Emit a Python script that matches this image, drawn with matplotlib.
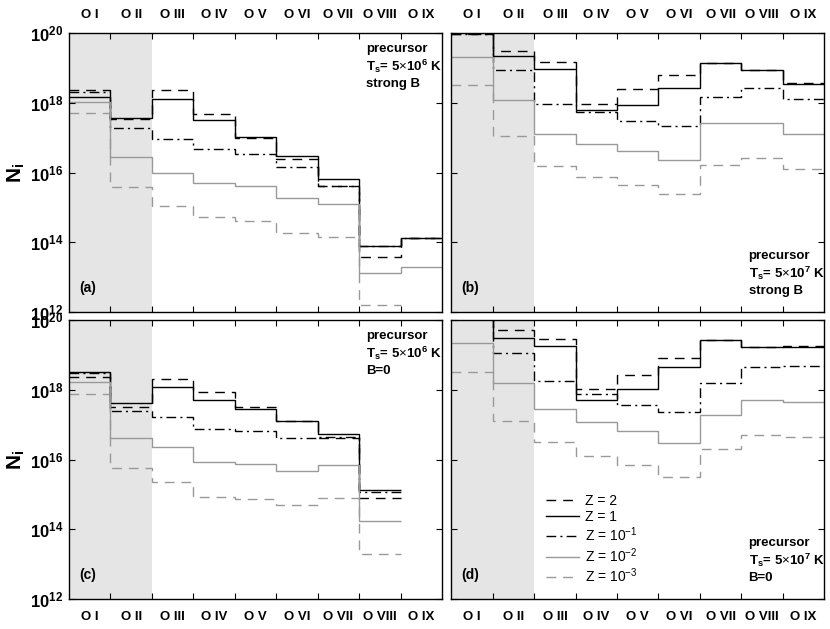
import numpy as np
import matplotlib
matplotlib.use("Agg")
import matplotlib.pyplot as plt

plt.rcParams['font.family'] = ['Liberation Sans', 'DejaVu Sans']
plt.rcParams['mathtext.fontset'] = 'custom'
plt.rcParams['mathtext.rm'] = 'Liberation Sans'
plt.rcParams['mathtext.bf'] = 'Liberation Sans:bold'
plt.rcParams['mathtext.it'] = 'Liberation Sans:italic'

# DATA (log10 N_i), one value per ion, nan = not shown
ions = ['O I', 'O II', 'O III', 'O IV', 'O V', 'O VI', 'O VII', 'O VIII', 'O IX']
z_labels = ['Z = 2', 'Z = 1', r'Z = 10$^{-1}$', r'Z = 10$^{-2}$', r'Z = 10$^{-3}$']

# (a) Ts=5e6 K, strong B
a_z2 = [18.36, 17.53, 18.36, 17.67, 17.00, 16.39, 15.62, 13.58, 14.12]
a_z1 = [18.17, 17.56, 18.11, 17.50, 17.02, 16.46, 15.82, 13.88, 14.12]
a_z01 = [18.30, 17.28, 16.95, 16.68, 16.53, 16.16, 15.62, 13.90, 14.12]
a_z001 = [18.02, 16.44, 16.00, 15.70, 15.60, 15.27, 15.10, 13.12, 13.30]
a_z0001 = [17.72, 15.57, 15.04, 14.71, 14.61, 14.26, 14.15, 12.19, np.nan]

# (b) Ts=5e7 K, strong B
b_z2 = [19.96, 19.49, 19.16, 17.96, 18.39, 18.79, 19.15, 18.95, 18.57]
b_z1 = [20.30, 19.33, 18.97, 17.80, 17.94, 18.43, 19.15, 18.95, 18.55]
b_z01 = [19.98, 18.93, 17.96, 17.73, 17.47, 17.32, 18.16, 18.41, 18.11]
b_z001 = [19.31, 18.09, 17.11, 16.83, 16.61, 16.37, 17.42, 17.43, 17.10]
b_z0001 = [18.51, 17.04, 16.19, 15.87, 15.64, 15.39, 16.22, 16.43, 16.10]

# (c) Ts=5e6 K, B=0
c_z2 = [18.36, 17.51, 18.30, 17.94, 17.50, 17.11, 16.61, 14.90, np.nan]
c_z1 = [18.51, 17.62, 18.07, 17.71, 17.46, 17.11, 16.73, 15.13, np.nan]
c_z01 = [18.48, 17.40, 17.23, 16.88, 16.82, 16.62, 16.64, 15.06, np.nan]
c_z001 = [18.22, 16.63, 16.35, 15.92, 15.88, 15.68, 15.85, 14.24, np.nan]
c_z0001 = [17.88, 15.75, 15.36, 14.93, 14.86, 14.69, 14.89, 13.28, np.nan]

# (d) Ts=5e7 K, B=0
d_z2 = [20.30, 19.70, 19.47, 18.02, 18.41, 18.92, 19.42, 19.22, 19.26]
d_z1 = [20.30, 19.49, 19.26, 17.72, 18.03, 18.65, 19.42, 19.22, 19.23]
d_z01 = [20.20, 19.05, 18.24, 17.89, 17.57, 17.36, 18.19, 18.65, 18.69]
d_z001 = [19.33, 18.19, 17.44, 17.07, 16.81, 16.48, 17.28, 17.70, 17.65]
d_z0001 = [18.52, 17.11, 16.50, 16.11, 15.85, 15.51, 16.30, 16.69, 16.65]

panels = [
    ('(a)', [a_z2, a_z1, a_z01, a_z001, a_z0001], '6', 'strong B'),
    ('(b)', [b_z2, b_z1, b_z01, b_z001, b_z0001], '7', 'strong B'),
    ('(c)', [c_z2, c_z1, c_z01, c_z001, c_z0001], '6', 'B=0'),
    ('(d)', [d_z2, d_z1, d_z01, d_z001, d_z0001], '7', 'B=0'),
]

styles = [
    dict(color='black', ls=(0, (7, 5))),
    dict(color='black', ls='-'),
    dict(color='black', ls=(0, (7, 3, 1.5, 3))),
    dict(color='0.6', ls='-'),
    dict(color='0.6', ls=(0, (7, 5))),
]

edges = np.arange(len(ions) + 1)
centers = edges[:-1] + 0.5

fig = plt.figure(figsize=(8.3, 6.29), dpi=100)
w, h = 0.4494, 0.4435
positions = [(0.0831, 0.504), (0.5437, 0.504), (0.0831, 0.0477), (0.5437, 0.0477)]

for i, (tag, series, texp, bline) in enumerate(panels):
    ax = fig.add_axes([positions[i][0], positions[i][1], w, h])
    ax.axvspan(0, 2, color='#e5e5e5', lw=0, zorder=0)
    for vals, st, lab in zip(series, styles, z_labels):
        ax.stairs(10 ** np.array(vals), edges, baseline=None, lw=1.0,
                  color=st['color'], linestyle=st['ls'], label=lab)
    ax.set_yscale('log')
    ax.set_ylim(1e12, 1e20)
    ax.set_xlim(0, 9)
    ax.set_yticks([1e12, 1e14, 1e16, 1e18, 1e20])
    ax.minorticks_off()
    if i % 2 == 0:
        ax.set_yticklabels([r'$\mathbf{10^{%d}}$' % e for e in (12, 14, 16, 18, 20)],
                           fontsize=12)
        ax.set_ylabel(r'$\mathbf{N_i}$', fontsize=15, labelpad=2)
    else:
        ax.set_yticklabels([])
    ax.tick_params(axis='y', which='major', direction='in', left=True, right=True,
                   length=4, pad=4)
    ax.set_xticks(edges[1:-1])
    ax.set_xticklabels([])
    ax.set_xticks(centers, minor=True)
    ax.set_xticklabels(ions, minor=True, fontsize=9.5, fontweight='bold')
    ax.tick_params(axis='x', which='major', direction='in', top=True, bottom=True,
                   length=4)
    top = i < 2
    ax.tick_params(axis='x', which='minor', length=0, pad=9,
                   labeltop=top, labelbottom=not top)
    for sp in ax.spines.values():
        sp.set_linewidth(1.0)

    ax.text(0.028, 0.085, tag, transform=ax.transAxes, fontsize=10,
            fontweight='bold', va='center', ha='left')
    txt = 'precursor\n' + r'$\mathbf{T_s}$= 5$\times$10$^{\mathbf{%s}}$ K' % texp + '\n' + bline
    if tag in ('(a)', '(c)'):
        ax.text(0.797, 0.965, txt, transform=ax.transAxes, fontsize=9.5,
                fontweight='bold', va='top', ha='left', linespacing=1.25)
    else:
        ax.text(0.797, 0.055, txt, transform=ax.transAxes, fontsize=9.5,
                fontweight='bold', va='bottom', ha='left', linespacing=1.25)
    if tag == '(d)':
        ax.legend(loc='upper left', bbox_to_anchor=(0.22, 0.42), frameon=False,
                  fontsize=10, handlelength=2.4, handletextpad=0.4,
                  labelspacing=0.12)

fig.savefig('out.png', dpi=100)
